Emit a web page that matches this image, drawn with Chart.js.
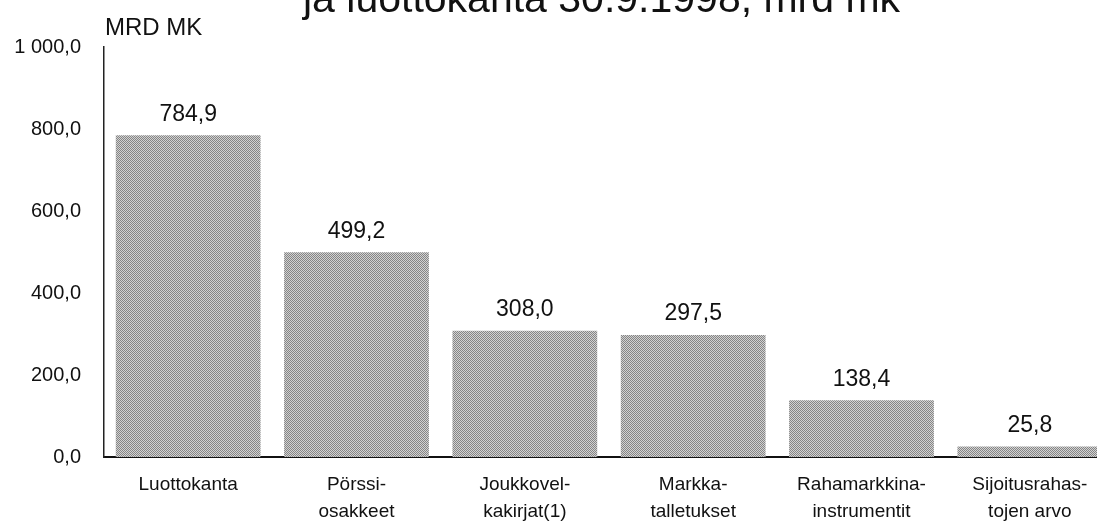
<!DOCTYPE html>
<html>
<head>
<meta charset="utf-8">
<script src="https://cdn.jsdelivr.net/npm/chart.js@4/dist/chart.umd.min.js"></script>
<style>
html,body{margin:0;padding:0;background:#fff;overflow:hidden;width:1097px;height:525px;}
canvas{display:block;}
</style>
</head>
<body>
<canvas id="c" width="1120" height="525" style="width:1120px;height:525px"></canvas>
<script>
const categories = [
  ['Luottokanta'],
  ['Pörssi-', 'osakkeet'],
  ['Joukkovel-', 'kakirjat(1)'],
  ['Markka-', 'talletukset'],
  ['Rahamarkkina-', 'instrumentit'],
  ['Sijoitusrahas-', 'tojen arvo']
];
const values = [784.9, 499.2, 308.0, 297.5, 138.4, 25.8];
const valueLabels = ['784,9', '499,2', '308,0', '297,5', '138,4', '25,8'];
const yTickLabels = ['0,0', '200,0', '400,0', '600,0', '800,0', '1 000,0'];
const titleText = 'ja luottokanta 30.9.1998, mrd mk';
const unitText = 'MRD MK';

const FONT = "'Liberation Sans', Arial, sans-serif";

// dithered gray fill
const pc = document.createElement('canvas');
pc.width = 2; pc.height = 2;
const px = pc.getContext('2d');
px.fillStyle = '#d2d2d2'; px.fillRect(0, 0, 2, 2);
px.fillStyle = '#858585'; px.fillRect(0, 0, 1, 1); px.fillRect(1, 1, 1, 1);
const ctx = document.getElementById('c').getContext('2d');
const pattern = ctx.createPattern(pc, 'repeat');

const textPlugin = {
  id: 'texts',
  afterDatasetsDraw(chart) {
    const c = chart.ctx;
    c.save();
    c.fillStyle = '#111';
    c.textAlign = 'center';
    c.textBaseline = 'middle';
    c.font = '23px ' + FONT;
    const meta = chart.getDatasetMeta(0);
    meta.data.forEach((bar, i) => {
      c.fillText(valueLabels[i], bar.x, bar.y - 21);
    });
    c.textAlign = 'left';
    c.textBaseline = 'alphabetic';
    c.font = '24px ' + FONT;
    c.fillText(unitText, 105, 35);
    c.font = '41px ' + FONT;
    c.fillText(titleText, 303, 12);
    c.restore();
  }
};

new Chart(ctx, {
  type: 'bar',
  data: {
    labels: categories,
    datasets: [{
      data: values,
      backgroundColor: pattern,
      borderWidth: 0,
      barPercentage: 0.86,
      categoryPercentage: 1.0
    }]
  },
  options: {
    responsive: false,
    animation: false,
    layout: { padding: { top: 47, right: 6, left: 0, bottom: 0 } },
    plugins: { legend: { display: false }, tooltip: { enabled: false }, title: { display: false } },
    scales: {
      x: {
        grid: { display: false, drawTicks: false },
        border: { display: true, color: '#111', width: 2 },
        ticks: { color: '#111', font: { family: FONT, size: 19, lineHeight: 1.42 }, padding: 14, maxRotation: 0, autoSkip: false },
        afterFit(s) { s.height = 68; }
      },
      y: {
        min: 0, max: 1000,
        grid: { display: false, drawTicks: false },
        border: { display: true, color: '#222', width: 1.5 },
        ticks: {
          stepSize: 200, color: '#111', padding: 23,
          font: { family: FONT, size: 20 },
          callback: (v, i) => yTickLabels[i]
        },
        afterFit(s) { s.width = 104; }
      }
    }
  },
  plugins: [textPlugin]
});
</script>
</body>
</html>
